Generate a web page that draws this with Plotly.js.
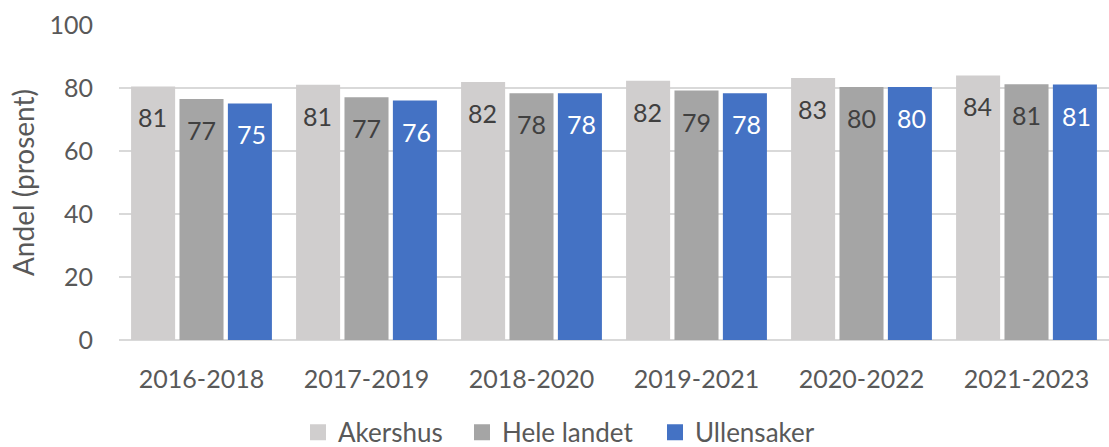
<!DOCTYPE html>
<html>
<head>
<meta charset="utf-8">
<script src="https://cdn.plot.ly/plotly-3.0.1.min.js"></script>
<style>html,body{margin:0;padding:0;background:#fff;}#chart{width:1109px;height:447px;}</style>
</head>
<body>
<div id="chart"></div>
<script>
const categories = ["2016-2018","2017-2019","2018-2020","2019-2021","2020-2022","2021-2023"];
const akershus = [80.5, 81.0, 81.9, 82.3, 83.2, 84.0];
const heleLandet = [76.5, 77.1, 78.3, 79.2, 80.3, 81.2];
const ullensaker = [75.1, 76.0, 78.3, 78.3, 80.3, 81.1];
const seriesNames = ["Akershus","Hele landet","Ullensaker"];
const colors = ["#d0cece","#a5a5a5","#4472c4"];
const labelColors = ["#404040","#404040","#ffffff"];
const allSeries = [akershus, heleLandet, ullensaker];
const FONT = "Lato, 'Open Sans', sans-serif";
const FS = 25;

const traces = allSeries.map((vals, i) => ({
  type: 'bar',
  name: seriesNames[i],
  x: categories,
  y: vals,
  marker: {color: colors[i]},
  showlegend: false,
  hoverinfo: 'none'
}));

// legend-only entries (square icons), one legend each so they can be placed independently
const legendIds = ['legend', 'legend2', 'legend3'];
seriesNames.forEach((n, i) => {
  traces.push({
    type: 'scatter', mode: 'markers', name: n,
    x: [null], y: [null],
    marker: {symbol: 'square', size: 16, color: colors[i]},
    legend: legendIds[i], showlegend: true, hoverinfo: 'none'
  });
});

const offsets = [-49.5, 0, 49.5];
const annotations = [];
allSeries.forEach((vals, i) => {
  vals.forEach((v, j) => {
    annotations.push({
      x: categories[j], y: v, xref: 'x', yref: 'y',
      text: String(Math.round(v)),
      showarrow: false,
      xshift: offsets[i], yshift: -31,
      yanchor: 'middle', xanchor: 'center',
      font: {family: FONT, size: FS, color: labelColors[i]}
    });
  });
});

function legendAt(xPx) {
  return {
    orientation: 'h', x: xPx / 1109, xanchor: 'left', xref: 'container',
    y: 0.033, yanchor: 'middle', yref: 'container',
    font: {family: FONT, size: 26, color: '#595959'},
    itemwidth: 30, bgcolor: 'rgba(0,0,0,0)', borderwidth: 0
  };
}

const layout = {
  width: 1109, height: 447,
  margin: {l: 119, r: 0, t: 25, b: 107, pad: 0},
  paper_bgcolor: '#ffffff', plot_bgcolor: '#ffffff',
  font: {family: FONT, size: FS, color: '#595959'},
  barmode: 'group',
  bargap: 0.12,
  bargroupgap: 0.09,
  showlegend: true,
  legend: legendAt(298),
  legend2: legendAt(462),
  legend3: legendAt(655),
  xaxis: {
    type: 'category',
    showgrid: false, zeroline: false, showline: false,
    ticks: 'outside', ticklen: 17, tickcolor: 'rgba(0,0,0,0)',
    tickfont: {family: FONT, size: FS, color: '#595959'}
  },
  yaxis: {
    range: [0, 100], tickvals: [0,20,40,60,80,100],
    showgrid: true, gridcolor: '#d9d9d9', gridwidth: 1.5,
    zeroline: true, zerolinecolor: '#d9d9d9', zerolinewidth: 1.5,
    showline: false,
    ticks: 'outside', ticklen: 20, tickcolor: 'rgba(0,0,0,0)',
    tickfont: {family: FONT, size: FS, color: '#595959'},
    title: {text: 'Andel (prosent)', font: {family: FONT, size: 28, color: '#595959'}, standoff: 6}
  },
  annotations: annotations
};

Plotly.newPlot('chart', traces, layout, {displayModeBar: false, staticPlot: true});
</script>
</body>
</html>
